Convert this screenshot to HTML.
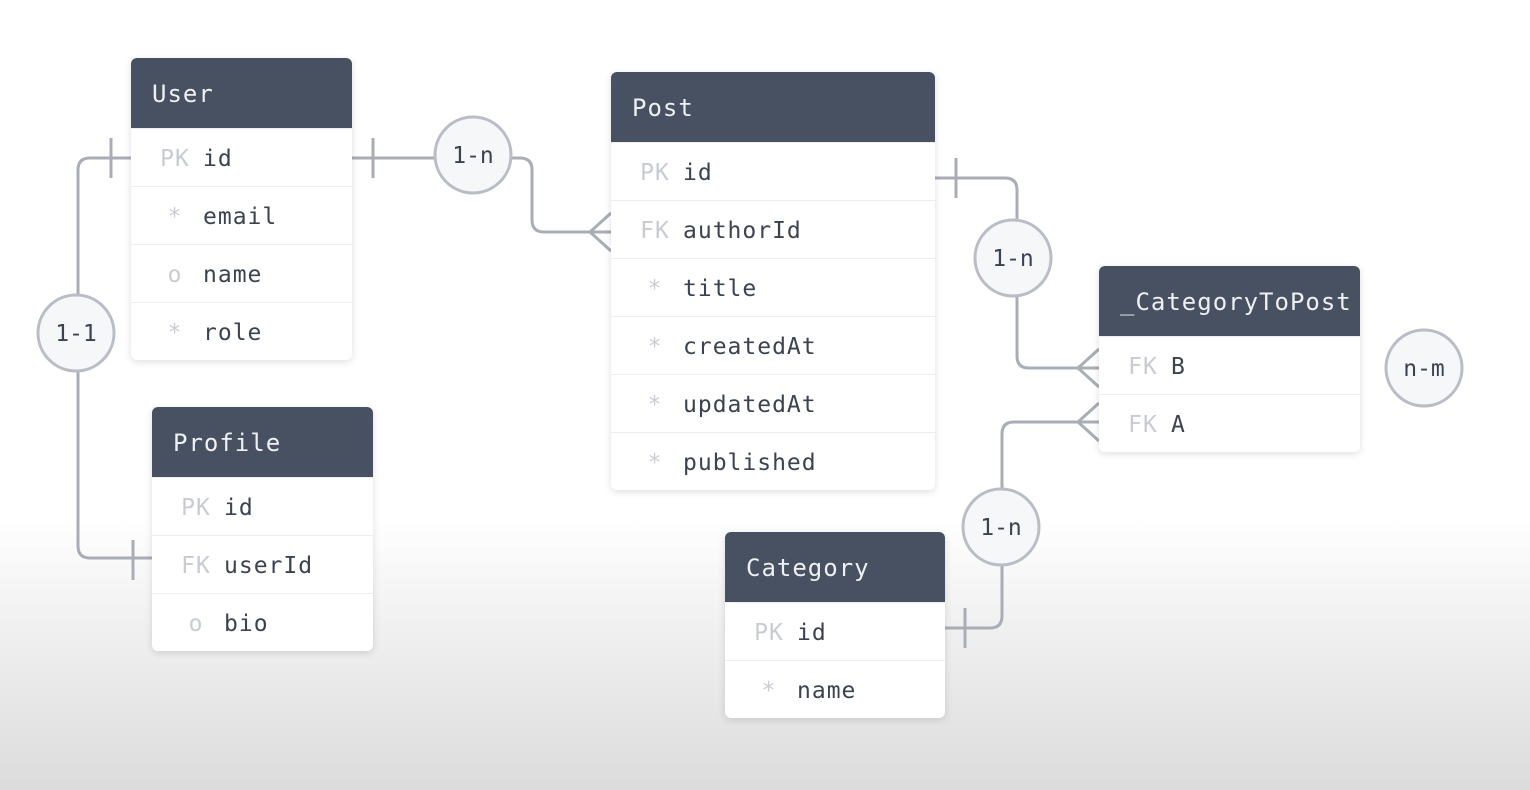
<!DOCTYPE html>
<html><head><meta charset="utf-8"><style>
body{margin:0;width:1530px;height:790px;overflow:hidden;background:linear-gradient(#fff 0,#fff 520px,#f1f1f2 620px,#dcdcdd 790px);font-family:"DejaVu Sans Mono","Liberation Mono",monospace;}
.t{position:absolute;background:#fff;border-radius:6px;box-shadow:0 2px 8px rgba(0,0,0,.13);overflow:hidden}
.h{height:70px;background:#475161;color:#eef0f3;font-size:24px;line-height:72px;padding-left:21px;letter-spacing:1px}
.r{height:57px;border-top:1px solid #eceef0;position:relative;font-size:23px;line-height:61px;color:#3b4250;letter-spacing:1px}
.r:first-of-type{border-top:none}
.p{position:absolute;left:24px;color:#c8ccd2;width:40px;text-align:center}
.n{position:absolute;left:72px}
svg{position:absolute;left:0;top:0}
</style></head><body>
<svg width="1530" height="790" fill="none" stroke="#a9adb5" stroke-width="3">
<path d="M352 158H435M511 158H520Q532 158 532 170V220Q532 232 544 232H611M590 232L611 213M590 232L611 251M373 138V178"/>
<path d="M131 158H90Q78 158 78 170V295M78 371V546Q78 558 90 558H152M111 138V178M133 540V580"/>
<path d="M935 178H1005Q1017 178 1017 190V220M1017 296V356Q1017 368 1029 368H1099M1078 368L1099 349M1078 368L1099 387M956 158V198"/>
<path d="M945 628H990Q1002 628 1002 616V565M1002 489V434Q1002 422 1014 422H1099M1078 422L1099 403M1078 422L1099 441M965 608V648"/>
<g fill="#f6f7f9" stroke="#b9bdc5"><circle cx="473" cy="155" r="38"/><circle cx="76" cy="333" r="38"/><circle cx="1013" cy="258" r="38"/><circle cx="1424" cy="368" r="38"/><circle cx="1001" cy="527" r="38"/></g>
<g fill="#3b4250" stroke="none" font-size="23" text-anchor="middle" font-family="DejaVu Sans Mono, monospace"><text x="473" y="163">1-n</text><text x="76" y="341">1-1</text><text x="1013" y="266">1-n</text><text x="1424" y="376">n-m</text><text x="1001" y="535">1-n</text></g>
</svg>
<div class="t" style="left:131px;top:58px;width:221px"><div class="h">User</div>
<div class="r"><span class="p">PK</span><span class="n">id</span></div><div class="r"><span class="p">*</span><span class="n">email</span></div><div class="r"><span class="p">o</span><span class="n">name</span></div><div class="r"><span class="p">*</span><span class="n">role</span></div></div>
<div class="t" style="left:611px;top:72px;width:324px"><div class="h">Post</div>
<div class="r"><span class="p">PK</span><span class="n">id</span></div><div class="r"><span class="p">FK</span><span class="n">authorId</span></div><div class="r"><span class="p">*</span><span class="n">title</span></div><div class="r"><span class="p">*</span><span class="n">createdAt</span></div><div class="r"><span class="p">*</span><span class="n">updatedAt</span></div><div class="r"><span class="p">*</span><span class="n">published</span></div></div>
<div class="t" style="left:1099px;top:266px;width:261px"><div class="h">_CategoryToPost</div>
<div class="r"><span class="p">FK</span><span class="n">B</span></div><div class="r"><span class="p">FK</span><span class="n">A</span></div></div>
<div class="t" style="left:152px;top:407px;width:221px"><div class="h">Profile</div>
<div class="r"><span class="p">PK</span><span class="n">id</span></div><div class="r"><span class="p">FK</span><span class="n">userId</span></div><div class="r"><span class="p">o</span><span class="n">bio</span></div></div>
<div class="t" style="left:725px;top:532px;width:220px"><div class="h">Category</div>
<div class="r"><span class="p">PK</span><span class="n">id</span></div><div class="r"><span class="p">*</span><span class="n">name</span></div></div>
</body></html>
